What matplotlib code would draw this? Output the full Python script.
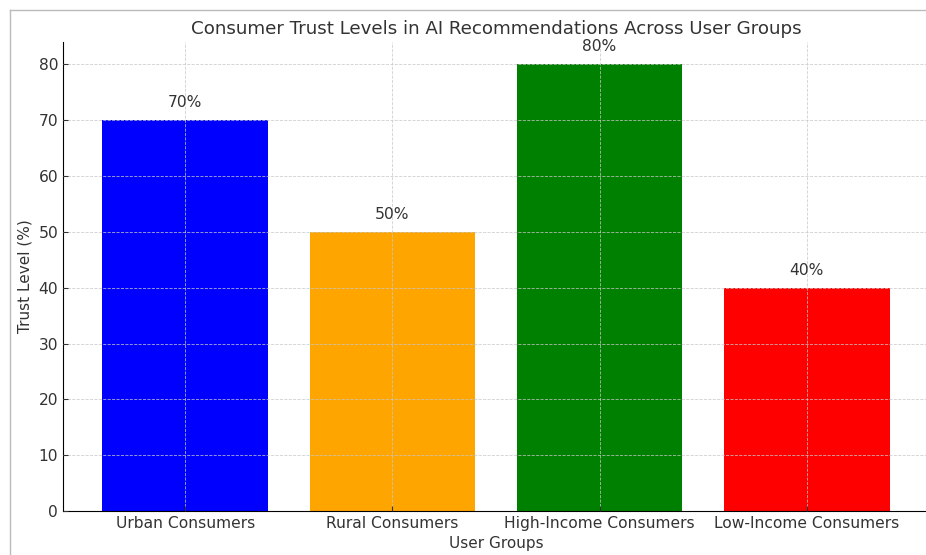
import matplotlib
matplotlib.use("Agg")
import matplotlib.pyplot as plt
from matplotlib.lines import Line2D

groups = ["Urban Consumers", "Rural Consumers", "High-Income Consumers", "Low-Income Consumers"]
trust = [70, 50, 80, 40]
colors = ["blue", "orange", "green", "red"]

TEXT = "#333333"
plt.rcParams["text.color"] = TEXT
plt.rcParams["axes.labelcolor"] = TEXT
plt.rcParams["xtick.color"] = TEXT
plt.rcParams["ytick.color"] = TEXT

W, H = 926, 555
fig = plt.figure(figsize=(W / 100, H / 100), dpi=100)
ax = fig.add_axes([63 / W, 1 - 511 / H, (929 - 63) / W, (511 - 42) / H])

bars = ax.bar(groups, trust, color=colors, width=0.8)
for b, v in zip(bars, trust):
    ax.text(b.get_x() + b.get_width() / 2, v + 1.8, f"{v}%",
            ha="center", va="bottom", fontsize=11.2)

ax.set_ylim(0, 84)
ax.set_title("Consumer Trust Levels in AI Recommendations Across User Groups",
             fontsize=13.15, pad=6)
ax.set_xlabel("User Groups", fontsize=11, labelpad=4)
ax.set_ylabel("Trust Level (%)", fontsize=11)
ax.tick_params(direction="in", labelsize=11.2)
ax.spines["top"].set_visible(False)
ax.spines["right"].set_visible(False)
ax.set_axisbelow(False)
ax.grid(True, linestyle="--", color="#c8c8c8", linewidth=0.6, alpha=0.85)

# thin frame of the screenshot
fig.add_artist(Line2D([10 / W, 10 / W], [0, 1 - 10 / H], transform=fig.transFigure,
                      color="#bbbbbb", linewidth=1))
fig.add_artist(Line2D([10 / W, 1], [1 - 10 / H, 1 - 10 / H], transform=fig.transFigure,
                      color="#bbbbbb", linewidth=1))

fig.savefig("out.png", dpi=100, facecolor="white")
